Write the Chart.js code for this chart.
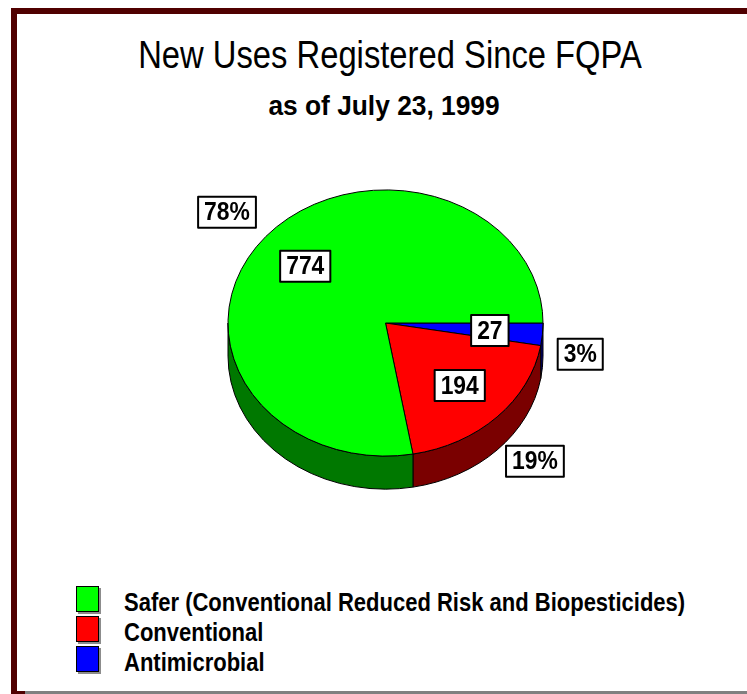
<!DOCTYPE html>
<html>
<head>
<meta charset="utf-8">
<script src="https://cdn.jsdelivr.net/npm/chart.js@4.4.1/dist/chart.umd.min.js"></script>
<style>
  html, body { margin: 0; padding: 0; background: #fff; overflow: hidden; }
  body { width: 747px; height: 694px; position: relative; }
  #frame { position: absolute; left: 11px; top: 8px; width: 760px; height: 677px;
           border-left: 6px solid #500000; border-top: 6px solid #500000; border-bottom: 4px solid #500000;
           background: #fff; }
  #shadow { position: absolute; left: 25px; top: 691px; width: 730px; height: 3px; background: #808080; }
  #chartWrap { position: absolute; left: 0; top: 0; width: 747px; height: 694px; }
  .title { position: absolute; width: 780px; text-align: center; color: #000; white-space: nowrap; }
  #t1 { left: 0; top: 35px; font: 39px/39px "Liberation Sans", sans-serif; transform: scaleX(0.84); transform-origin: 390px 0; }
  #t2 { left: -6px; top: 92px; font: bold 28px/28px "Liberation Sans", sans-serif; transform: scaleX(0.94); transform-origin: 390px 0; }
  .row { position: absolute; left: 76px; height: 26px; }
  .sw { position: absolute; left: 0; top: 0; width: 21px; height: 24px; border: 1px solid #000; box-shadow: 2px 2px 0 #8c8c8c; }
  .lt { position: absolute; left: 48px; top: 4px; font: bold 25px/25px "Liberation Sans", sans-serif; color: #000; white-space: nowrap;
        transform: scaleX(0.88); transform-origin: 0 0; }
</style>
</head>
<body>
<div id="frame"></div>
<div id="shadow"></div>
<div class="title" id="t1"></div>
<div class="title" id="t2"></div>
<div id="legend"></div>
<div id="chartWrap"><canvas id="c" width="747" height="694"></canvas></div>
<script>
// ---- data ----
const titleText = 'New Uses Registered Since FQPA';
const subtitleText = 'as of July 23, 1999';
const categories = ['Safer (Conventional Reduced Risk and Biopesticides)', 'Conventional', 'Antimicrobial'];
const values = [774, 194, 27];
const percentLabels = ['78%', '19%', '3%'];
const topColors = ['#00ff00', '#ff0000', '#0000ff'];
const sideColors = ['#007800', '#7a0000', '#00007a'];

document.getElementById('t1').textContent = titleText;
document.getElementById('t2').textContent = subtitleText;

// HTML legend (same order as the original)
const legend = document.getElementById('legend');
categories.forEach((name, i) => {
  const row = document.createElement('div');
  row.className = 'row';
  row.style.top = (586 + i * 30) + 'px';
  const sw = document.createElement('div');
  sw.className = 'sw';
  sw.style.background = topColors[i];
  const lt = document.createElement('div');
  lt.className = 'lt';
  lt.textContent = name;
  row.appendChild(sw); row.appendChild(lt);
  legend.appendChild(row);
});

// Slices go clockwise from 3 o'clock: Antimicrobial, Conventional, Safer
const order = [2, 1, 0];
const TILT = 0.845;   // vertical squash of the pie
const DEPTH = 0.21;   // side thickness relative to radius

const pie3d = {
  id: 'pie3d',
  beforeDatasetsDraw(chart) {
    const ctx = chart.ctx;
    const meta = chart.getDatasetMeta(0);
    const arcs = meta.data;
    const p0 = arcs[0].getProps(['x', 'y', 'outerRadius'], true);
    const cx = p0.x, cy = p0.y, r = p0.outerRadius;
    const ry = r * TILT, depth = r * DEPTH;
    ctx.save();
    ctx.lineWidth = 1;
    ctx.strokeStyle = '#000';
    ctx.lineJoin = 'round';
    // side faces (front half only)
    arcs.forEach((arc, j) => {
      const k = order[j];
      const p = arc.getProps(['startAngle', 'endAngle'], true);
      const s = Math.max(p.startAngle, 0);
      const e = Math.min(p.endAngle, Math.PI);
      if (e <= s) return;
      ctx.beginPath();
      ctx.ellipse(cx, cy, r, ry, 0, s, e, false);
      ctx.lineTo(cx + r * Math.cos(e), cy + ry * Math.sin(e) + depth);
      ctx.ellipse(cx, cy + depth, r, ry, 0, e, s, true);
      ctx.closePath();
      ctx.fillStyle = sideColors[k];
      ctx.fill();
      ctx.stroke();
    });
    // top faces
    arcs.forEach((arc, j) => {
      const k = order[j];
      const p = arc.getProps(['startAngle', 'endAngle'], true);
      ctx.beginPath();
      ctx.moveTo(cx, cy);
      ctx.ellipse(cx, cy, r, ry, 0, p.startAngle, p.endAngle, false);
      ctx.closePath();
      ctx.fillStyle = topColors[k];
      ctx.fill();
      ctx.stroke();
    });
    // labels
    const SX = 0.88;
    ctx.font = 'bold 26px "Liberation Sans", sans-serif';
    ctx.textAlign = 'center';
    ctx.textBaseline = 'middle';
    const box = (txt, x, y) => {
      const w = ctx.measureText(txt).width * SX + 12;
      const h = 31;
      ctx.fillStyle = '#fff';
      ctx.fillRect(x - w / 2, y - h / 2, w, h);
      ctx.lineWidth = 2;
      ctx.strokeStyle = '#000';
      ctx.strokeRect(x - w / 2, y - h / 2, w, h);
      ctx.save();
      ctx.translate(x, y + 1);
      ctx.scale(SX, 1);
      ctx.fillStyle = '#000';
      ctx.fillText(txt, 0, 0);
      ctx.restore();
    };
    arcs.forEach((arc, j) => {
      const k = order[j];
      const p = arc.getProps(['startAngle', 'endAngle'], true);
      const mid = (p.startAngle + p.endAngle) / 2;
      const c = Math.cos(mid), sn = Math.sin(mid);
      box(String(values[k]), cx + c * r * 0.665, cy + sn * ry * 0.665);
      const ox = cx + c * r + Math.sign(c) * r * 0.24;
      const oy = cy + sn * (ry + r * 0.25) + (sn > 0 ? depth / 2 : 0);
      box(percentLabels[k], ox, oy);
    });
    ctx.restore();
    return false;
  }
};

new Chart(document.getElementById('c'), {
  type: 'pie',
  data: {
    labels: order.map(i => categories[i]),
    datasets: [{
      data: order.map(i => values[i]),
      backgroundColor: order.map(i => topColors[i]),
      borderWidth: 0
    }]
  },
  options: {
    responsive: false,
    animation: false,
    rotation: 90,
    layout: { padding: { left: 228, right: 204, top: 165.5, bottom: 213.5 } },
    plugins: { legend: { display: false }, tooltip: { enabled: false }, title: { display: false } }
  },
  plugins: [pie3d]
});
</script>
</body>
</html>
